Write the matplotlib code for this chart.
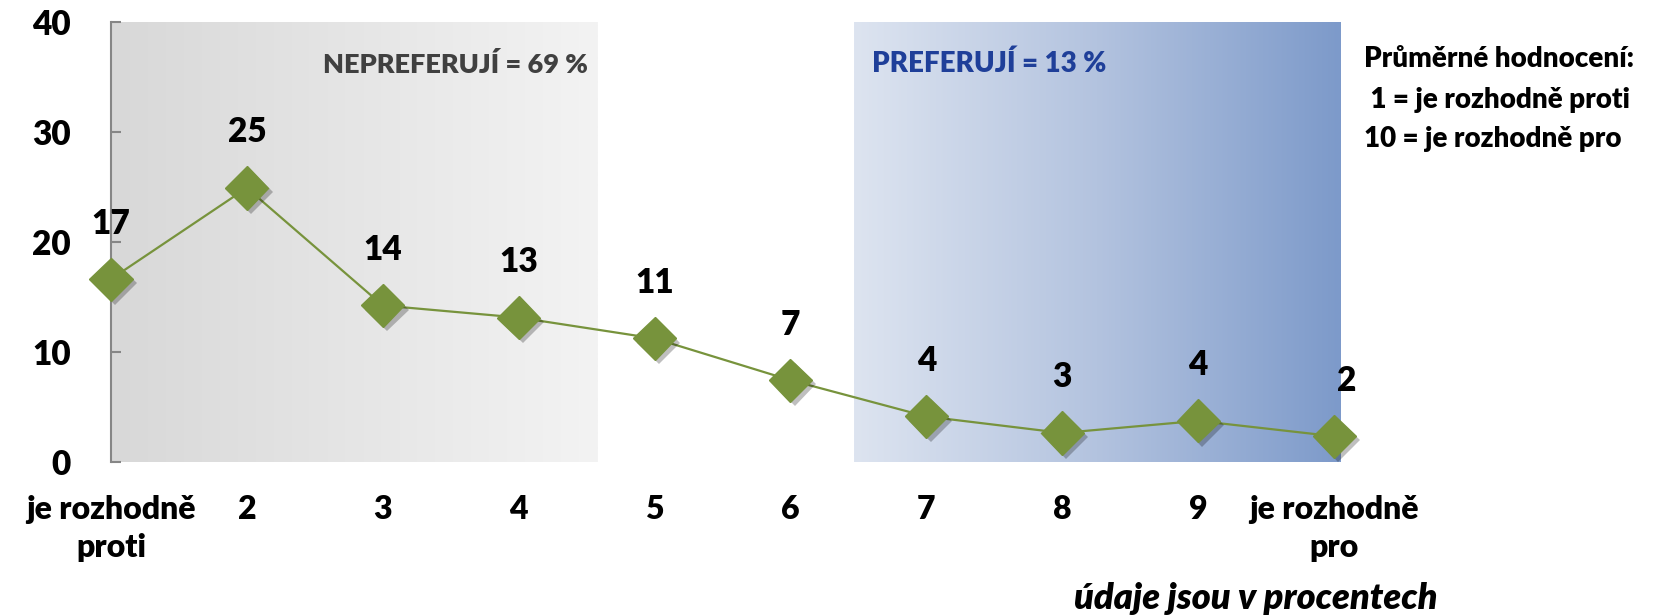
import numpy as np
import matplotlib
matplotlib.use("Agg")
import matplotlib.pyplot as plt
import matplotlib.patheffects as pe
from matplotlib.colors import LinearSegmentedColormap

plt.rcParams["font.family"] = ["Lato", "DejaVu Sans"]
W = "heavy"
plt.rcParams["font.weight"] = W

categories = ["je rozhodně\nproti", "2", "3", "4", "5", "6", "7", "8", "9", "je rozhodně\npro"]
values = [16.6, 24.9, 14.2, 13.1, 11.2, 7.4, 4.1, 2.6, 3.7, 2.3]
yticks = [0, 10, 20, 30, 40]

GREEN = "#77933c"

fig = plt.figure(figsize=(16.68, 6.16), dpi=100)
ax = fig.add_axes([0.0665, 0.2508, 0.7374, 0.7135])

x = np.arange(len(values))

# shaded zones: "nepreferují" (grey) and "preferují" (blue), horizontal gradients
grad = np.linspace(0, 1, 256).reshape(1, -1)
grey = LinearSegmentedColormap.from_list("g", ["#d8d8d8", "#f3f3f3"])
blue = LinearSegmentedColormap.from_list("b", ["#dde4f0", "#b3c3df", "#7d9aca"])
ax.imshow(grad, cmap=grey, extent=[0, 3.576, 0, 40], aspect="auto", zorder=0)
ax.imshow(grad, cmap=blue, extent=[5.47, 9.05, 0, 40], aspect="auto", zorder=0)

ax.plot(x, values, color=GREEN, lw=1.6, zorder=2, clip_on=False)
ax.plot(x, values, ls="none", marker="D", ms=22, color=GREEN, zorder=3, clip_on=False,
        path_effects=[pe.SimplePatchShadow(offset=(3, -3), shadow_rgbFace="k", alpha=0.25),
                      pe.Normal()])

for i, v in enumerate(values):
    dx = 9 if i == len(values) - 1 else 0
    ax.annotate(f"{v:.0f}", (i, v), xytext=(dx, 40), textcoords="offset points",
                ha="center", va="center", fontsize=24, fontweight=W, color="black")

ax.set_xlim(0, 9.05)
ax.set_ylim(0, 40)
ax.set_yticks(yticks)
ax.set_xticks(x)
ax.set_xticklabels(categories, fontsize=23, fontweight=W)
for t in ax.get_xticklabels():
    t.set_linespacing(1.4)
ax.tick_params(axis="x", length=0, pad=24)
ax.tick_params(axis="y", direction="in", length=7, width=1.5, color="#868686",
               labelsize=24, pad=29)
for s in ["top", "right", "bottom"]:
    ax.spines[s].set_visible(False)
ax.spines["left"].set_color("#868686")
ax.spines["left"].set_linewidth(1.5)

fig.text(0.3525, 0.896, "NEPREFERUJÍ = 69 %", ha="right", va="center",
         fontsize=19.5, fontweight=W, color="#404040")
fig.text(0.5228, 0.896, "PREFERUJÍ = 13 %", ha="left", va="center",
         fontsize=20, fontweight=W, color="#1f3f99")

legend_lines = ["Průměrné hodnocení:", " 1 = je rozhodně proti", "10 = je rozhodně pro"]
for ln, yy in zip(legend_lines, [0.905, 0.838, 0.775]):
    fig.text(0.8177, yy, ln, ha="left", va="center", fontsize=20,
             fontweight=W, color="black")

fig.text(0.753, 0.028, "údaje jsou v procentech", ha="center", va="center",
         fontsize=26, fontweight=W, style="italic", color="black")

fig.savefig("out.png", dpi=100)
